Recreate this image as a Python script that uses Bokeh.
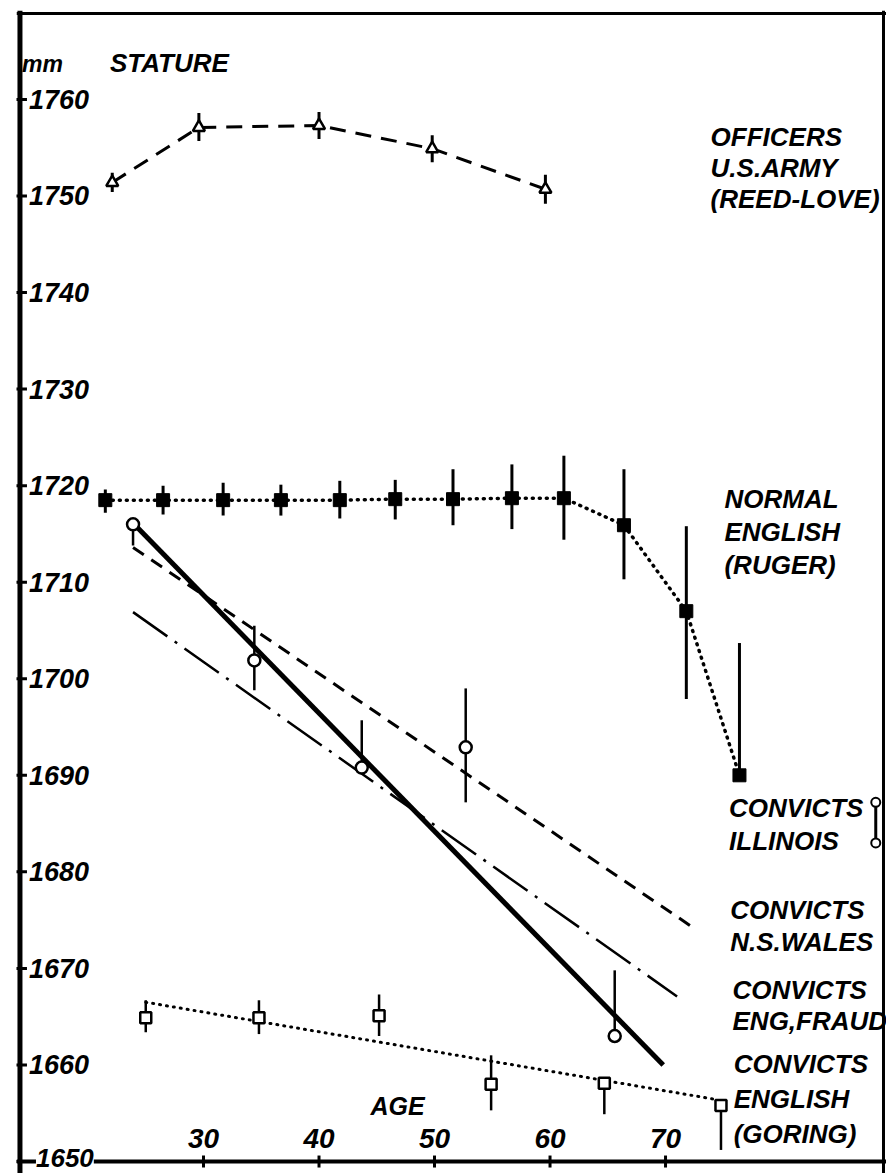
from bokeh.plotting import figure
from bokeh.models import Range1d, Span, Label
from bokeh.core.properties import value
from bokeh.embed import file_html
from bokeh.resources import INLINE

# ---------------- data ----------------
y_ticks = [1650, 1660, 1670, 1680, 1690, 1700, 1710, 1720, 1730, 1740, 1750, 1760]
x_ticks = [30, 40, 50, 60, 70]

# Officers U.S. Army (Reed-Love)
off_age = [22.1, 29.6, 40.0, 49.8, 59.6]
off_val = [1751.4, 1757.1, 1757.3, 1754.9, 1750.7]
off_hi = [1752.4, 1758.6, 1758.7, 1756.3, 1752.2]
off_lo = [1750.4, 1755.7, 1755.9, 1753.5, 1749.2]

# Normal English (Ruger)
rug_age = [21.5, 26.5, 31.7, 36.7, 41.8, 46.6, 51.6, 56.7, 61.2, 66.4, 71.8, 76.4]
rug_val = [1718.5, 1718.5, 1718.5, 1718.5, 1718.5, 1718.6, 1718.6, 1718.7, 1718.7, 1715.9, 1707.0, 1690.0]
rug_hi = [1719.6, 1720.0, 1720.3, 1720.1, 1720.5, 1720.6, 1721.7, 1722.2, 1723.1, 1721.7, 1715.8, 1703.7]
rug_lo = [1717.2, 1717.0, 1716.9, 1716.9, 1716.6, 1716.5, 1715.9, 1715.5, 1714.4, 1710.3, 1697.9, 1690.0]

# Convicts Illinois
ill_age = [23.9, 34.4, 43.7, 52.7, 65.6]
ill_val = [1716.0, 1701.9, 1690.8, 1692.9, 1663.0]
ill_hi = [1716.0, 1705.5, 1695.7, 1699.0, 1669.8]
ill_lo = [1713.8, 1698.8, 1690.8, 1687.2, 1663.0]
ill_fit_age = [24.0, 69.8]
ill_fit_val = [1716.0, 1660.0]

# Convicts N.S. Wales (fitted line)
nsw_age = [23.9, 72.3]
nsw_val = [1713.6, 1674.3]

# Convicts English, fraud (fitted line)
fraud_age = [23.9, 71.0]
fraud_val = [1706.9, 1667.1]

# Convicts English (Goring)
gor_age = [25.0, 34.8, 45.2, 54.9, 64.7, 74.8]
gor_val = [1664.9, 1664.9, 1665.1, 1658.0, 1658.1, 1655.8]
gor_hi = [1666.7, 1666.7, 1667.3, 1661.0, 1658.1, 1655.8]
gor_lo = [1663.4, 1663.2, 1663.0, 1655.3, 1654.9, 1651.2]
gor_fit_age = [25.0, 74.5]
gor_fit_val = [1666.5, 1656.4]

# ---------------- figure ----------------
FONT = value("Liberation Sans")
X0, X1 = 13.81, 89.13          # visible x range (age)
Y0, Y1 = 1648.76, 1769.21      # visible y range (mm)
X_AXIS, X_RIGHT = 14.11, 88.87  # where the left axis and right border are drawn
Y_AXIS, Y_TOP = 1650.0, 1768.9  # where the bottom axis and top border are drawn

p = figure(frame_width=870, frame_height=1163,
           x_range=Range1d(X0, X1), y_range=Range1d(Y0, Y1),
           x_axis_location=None, y_axis_location=None,
           output_backend="svg", toolbar_location=None,
           min_border_left=16, min_border_right=0, min_border_top=10, min_border_bottom=0)
p.background_fill_color = "white"
p.border_fill_color = "white"
p.grid.visible = False
p.outline_line_color = None

# frame lines: heavy left and bottom axes, lighter top and right borders
p.add_layout(Span(location=X_AXIS, dimension="height", line_color="black", line_width=5))
p.add_layout(Span(location=X_RIGHT, dimension="height", line_color="black", line_width=3))
p.add_layout(Span(location=Y_TOP, dimension="width", line_color="black", line_width=3))
p.add_layout(Span(location=Y_AXIS, dimension="width", line_color="black", line_width=4))

# inward tick marks
p.rect(x=[X_AXIS] * len(y_ticks), y=y_ticks, width=14, height=3,
       width_units="screen", height_units="screen", fill_color="black", line_color=None)
p.rect(x=x_ticks, y=[Y_AXIS] * len(x_ticks), width=3, height=12,
       width_units="screen", height_units="screen", fill_color="black", line_color=None)

# tick labels drawn inside the frame, as in the original
inner = [t for t in y_ticks if t != y_ticks[0]]
p.text(x=[X_AXIS] * len(inner), y=inner, text=[str(t) for t in inner],
       x_offset=9, text_baseline="middle", text_align="left",
       text_font=FONT, text_font_style="bold italic", text_font_size="27px", text_color="black")
p.add_layout(Label(x=X_AXIS, y=y_ticks[0], text=str(y_ticks[0]), x_offset=16, y_offset=4,
                   text_baseline="middle", text_align="left",
                   text_font="Liberation Sans", text_font_style="bold italic", text_font_size="26px",
                   background_fill_color="white", text_color="black"))
p.text(x=x_ticks, y=[Y_AXIS] * len(x_ticks), text=[str(t) for t in x_ticks],
       y_offset=-23, text_baseline="middle", text_align="center",
       text_font=FONT, text_font_style="bold italic", text_font_size="28px", text_color="black")

# headings
p.text(x=[X_AXIS], y=[1763.7], text=["mm"], x_offset=2, text_baseline="middle",
       text_font=FONT, text_font_style="bold italic", text_font_size="23px")
p.text(x=[21.9], y=[1763.8], text=["STATURE"], text_baseline="middle",
       text_font=FONT, text_font_style="bold italic", text_font_size="26px")
p.text(x=[46.8], y=[1655.8], text=["AGE"], text_baseline="middle", text_align="center",
       text_font=FONT, text_font_style="bold italic", text_font_size="25px")

# ---------------- series ----------------
# Officers
p.line(off_age, off_val, line_color="black", line_width=3, line_dash="16 10")
p.segment(x0=off_age, y0=off_lo, x1=off_age, y1=off_hi, line_color="black", line_width=3)
p.scatter(off_age, off_val, marker="triangle", size=12, fill_color="white",
          line_color="black", line_width=2.5)

# Ruger
p.line(rug_age, rug_val, line_color="black", line_width=3.5, line_dash="1 6", line_cap="round")
p.segment(x0=rug_age, y0=rug_lo, x1=rug_age, y1=rug_hi, line_color="black", line_width=3)
p.scatter(rug_age, rug_val, marker="square", size=13, fill_color="black", line_color="black")

# N.S. Wales
p.line(nsw_age, nsw_val, line_color="black", line_width=3, line_dash="13 9")
# Eng. fraud
p.line(fraud_age, fraud_val, line_color="black", line_width=2.5, line_dash="42 9 3 9")
# Illinois
p.line(ill_fit_age, ill_fit_val, line_color="black", line_width=5)
p.segment(x0=ill_age, y0=ill_lo, x1=ill_age, y1=ill_hi, line_color="black", line_width=2.5)
p.scatter(ill_age, ill_val, marker="circle", size=12, fill_color="white",
          line_color="black", line_width=2.5)

# Goring
p.line(gor_fit_age, gor_fit_val, line_color="black", line_width=3, line_dash="1 6", line_cap="round")
p.segment(x0=gor_age, y0=gor_lo, x1=gor_age, y1=gor_hi, line_color="black", line_width=2.5)
p.scatter(gor_age, gor_val, marker="square", size=11, fill_color="white",
          line_color="black", line_width=2.5)

# ---------------- series labels ----------------
blocks = [
    (73.9, 1756.1, 31, ["OFFICERS", "U.S.ARMY", "(REED-LOVE)"]),
    (75.1, 1718.6, 33, ["NORMAL", "ENGLISH", "(RUGER)"]),
    (75.5, 1686.6, 33, ["CONVICTS", "ILLINOIS"]),
    (75.6, 1676.0, 32, ["CONVICTS", "N.S.WALES"]),
    (75.8, 1667.8, 31, ["CONVICTS", "ENG,FRAUD"]),
    (75.9, 1660.05, 35, ["CONVICTS", "ENGLISH", "(GORING)"]),
]
for bx, by, gap, lines in blocks:
    n = len(lines)
    p.text(x=[bx] * n, y=[by] * n, text=lines, y_offset=[i * gap for i in range(n)],
           text_baseline="middle", text_align="left",
           text_font=FONT, text_font_style="bold italic", text_font_size="26px", text_color="black")

# small key symbol beside "CONVICTS ILLINOIS"
key_x = [88.2, 88.2]
key_y = [1687.2, 1683.0]
p.line(key_x, key_y, line_color="black", line_width=3)
p.scatter(key_x, key_y, marker="circle", size=9, fill_color="white", line_color="black", line_width=2)

open("out.html", "w").write(file_html(p, INLINE))
